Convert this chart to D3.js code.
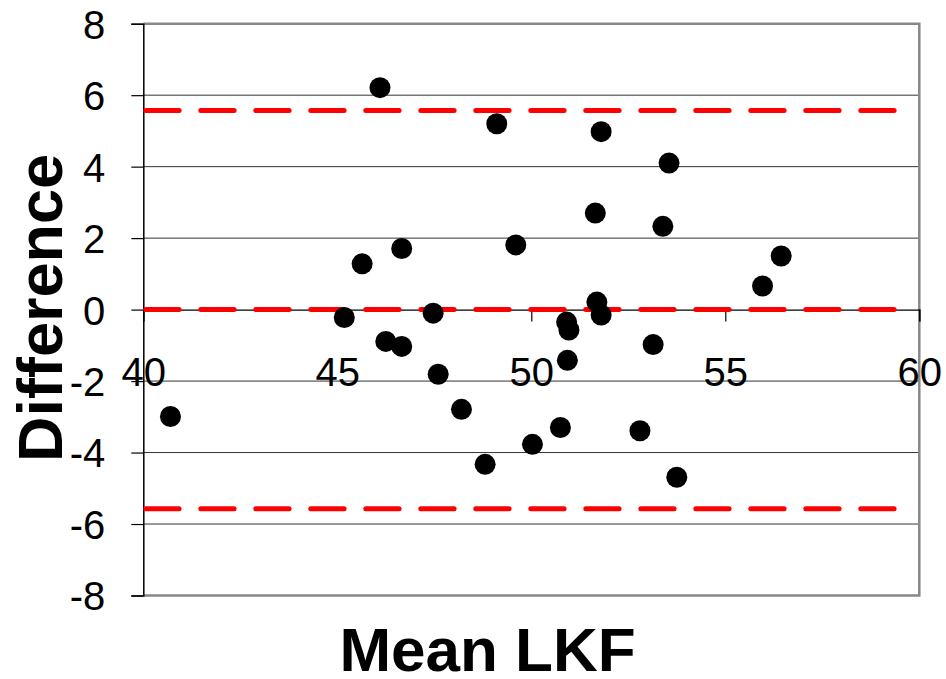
<!DOCTYPE html>
<html>
<head>
<meta charset="utf-8">
<script src="https://cdn.jsdelivr.net/npm/d3@7"></script>
<style>
  body { margin: 0; background: #fff; }
  svg { display: block; font-family: "Liberation Sans", Arial, sans-serif; }
</style>
</head>
<body>
<svg id="chart"></svg>
<script>
// Bland-Altman style data
var meanLKF = [46.1, 49.11, 45.64, 46.66, 49.6, 45.18, 47.47, 51.8, 53.55, 51.65,
               53.39, 56.44, 55.96, 51.69, 51.8, 50.91, 40.7, 46.25, 46.66, 47.6,
               48.2, 48.81, 50.03, 50.97, 50.93, 53.14, 50.75, 52.8, 53.75];
var difference = [6.21, 5.2, 1.28, 1.71, 1.81, -0.22, -0.1, 4.98, 4.1, 2.7,
                  2.33, 1.5, 0.66, 0.21, -0.15, -0.35, -2.99, -0.89, -1.03, -1.81,
                  -2.79, -4.33, -3.77, -0.57, -1.42, -0.98, -3.3, -3.39, -4.69];
var limitLines = [5.57, 0, -5.57];
var xTicks = [40, 45, 50, 55, 60];
var yTicks = [-8, -6, -4, -2, 0, 2, 4, 6, 8];

const width = 946;
const height = 679;
const margin = {top: 23.7, right: 26.7, bottom: 83.5, left: 143.3};

var svg = d3.select("#chart")
    .attr("width", width)
    .attr("height", height);

var x = d3.scaleLinear().domain([40, 60]).range([margin.left, width - margin.right]);
var y = d3.scaleLinear().domain([-8, 8]).range([height - margin.bottom, margin.top]);

// plain hyphen minus like the original
function fmt(d) { return String(d); }

// horizontal gridlines
svg.selectAll(".grid")
    .data(yTicks.filter(d => d !== -8 && d !== 8 && d !== 0))
    .enter().append("line")
    .attr("class", "grid")
    .attr("x1", x(40)).attr("x2", x(60))
    .attr("y1", d => y(d)).attr("y2", d => y(d))
    .attr("stroke", "#333")
    .attr("stroke-width", 1);

// plot area border (top, right, bottom)
svg.append("path")
    .attr("d", `M${x(40)},${y(8)} H${x(60)} V${y(-8)} H${x(40)}`)
    .attr("fill", "none")
    .attr("stroke", "#888")
    .attr("stroke-width", 2.5);

// y axis
var yAxis = svg.append("g")
    .attr("transform", `translate(${x(40)},0)`)
    .call(d3.axisLeft(y).tickValues(yTicks).tickSize(12).tickPadding(26).tickFormat(fmt));
yAxis.select(".domain").attr("stroke", "#000").attr("stroke-width", 1.5);
yAxis.selectAll(".tick line").attr("stroke", "#000").attr("stroke-width", 1.2);
yAxis.selectAll("text")
    .attr("font-size", 40)
    .attr("font-family", "Liberation Sans, Arial, sans-serif")
    .attr("fill", "#000")
    .attr("dy", "0.36em");

// x axis sits on y = 0
var xAxis = svg.append("g")
    .attr("transform", `translate(0,${y(0)})`)
    .call(d3.axisBottom(x).tickValues(xTicks).tickSize(12).tickPadding(36).tickFormat(fmt));
xAxis.select(".domain").attr("stroke", "#000").attr("stroke-width", 1.2);
xAxis.selectAll(".tick line").attr("stroke", "#000").attr("stroke-width", 1.2);
xAxis.selectAll("text")
    .attr("font-size", 40)
    .attr("font-family", "Liberation Sans, Arial, sans-serif")
    .attr("fill", "#000");

// red dashed limit lines
svg.selectAll(".limit")
    .data(limitLines)
    .enter().append("line")
    .attr("class", "limit")
    .attr("x1", x(40) + 2.5).attr("x2", x(60) - 4)
    .attr("y1", d => y(d)).attr("y2", d => y(d))
    .attr("stroke", "#ff0000")
    .attr("stroke-width", 5)
    .attr("stroke-linecap", "round")
    .attr("stroke-dasharray", "33.3,21.7");

// points
svg.selectAll(".point")
    .data(meanLKF.map((m, i) => ({m: m, d: difference[i]})))
    .enter().append("circle")
    .attr("class", "point")
    .attr("cx", d => x(d.m))
    .attr("cy", d => y(d.d))
    .attr("r", 10.5)
    .attr("fill", "#000");

// axis titles
svg.append("text")
    .attr("x", 487.5)
    .attr("y", 671)
    .attr("text-anchor", "middle")
    .attr("font-size", 62)
    .attr("font-weight", "bold")
    .text("Mean LKF");

svg.append("text")
    .attr("transform", "translate(62,308) rotate(-90)")
    .attr("text-anchor", "middle")
    .attr("font-size", 63)
    .attr("font-weight", "bold")
    .text("Difference");
</script>
</body>
</html>
